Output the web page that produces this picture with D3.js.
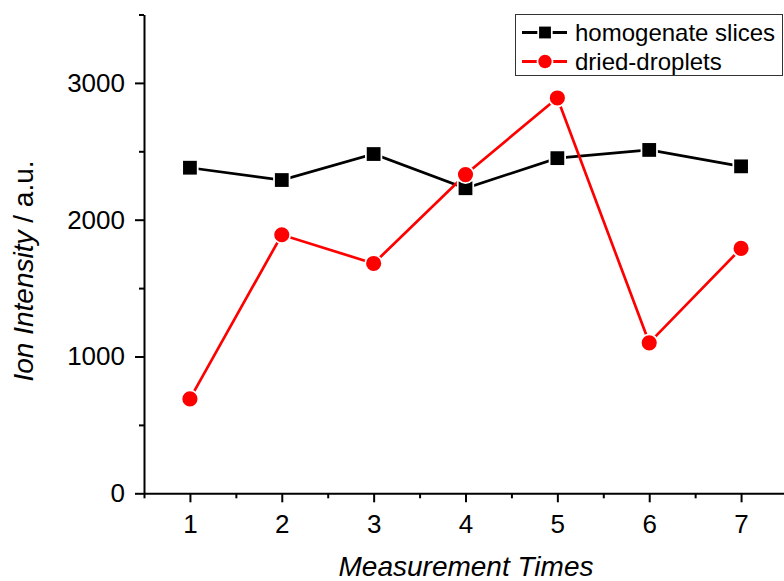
<!DOCTYPE html>
<html>
<head>
  <meta charset="utf-8">
  <title>Ion Intensity</title>
  <style>
    body { margin: 0; background: #fff; }
    svg  { font-family: "Liberation Sans", Arial, sans-serif; }
    .axis path, .axis line { stroke: #000; stroke-width: 2; }
    .axis text { fill: #000; }
  </style>
</head>
<body>
  <script src="https://cdn.jsdelivr.net/npm/d3@7/dist/d3.min.js"></script>

  <div id="scene">
    <svg width="784" height="581"></svg>
  </div>

  <script>
    // values
    var times = [1, 2, 3, 4, 5, 6, 7];
    var homogenate = [2380, 2290, 2480, 2230, 2450, 2510, 2390];
    var droplets = [690, 1890, 1680, 2330, 2890, 1100, 1790];
    var yMajor = [0, 1000, 2000, 3000];
    var yMinor = [500, 1500, 2500, 3500];
    var xMinor = [0.5, 1.5, 2.5, 3.5, 4.5, 5.5, 6.5, 7.5];
    var seriesNames = ["homogenate slices", "dried-droplets"];

    var svg = d3.select("svg");

    var x = d3.scaleLinear().domain([0.5, 7.5]).range([144, 787]);
    var y = d3.scaleLinear().domain([0, 3500]).range([493.3, 14.5]);

    // axes
    svg.append("g").attr("class", "axis")
      .attr("transform", "translate(0,493.3)")
      .call(d3.axisBottom(x).tickValues(xMinor).tickSize(5).tickSizeOuter(0).tickFormat(""));
    var xa = svg.append("g").attr("class", "axis")
      .attr("transform", "translate(0,493.3)")
      .call(d3.axisBottom(x).tickValues(times).tickSize(9).tickSizeOuter(0)
        .tickPadding(12).tickFormat(d3.format("d")));
    xa.select(".domain").remove();
    xa.selectAll("text").style("font-size", "26px");

    svg.append("g").attr("class", "axis")
      .attr("transform", "translate(144,0)")
      .call(d3.axisLeft(y).tickValues(yMinor).tickSize(5).tickSizeOuter(0).tickFormat(""));
    var ya = svg.append("g").attr("class", "axis")
      .attr("transform", "translate(144,0)")
      .call(d3.axisLeft(y).tickValues(yMajor).tickSize(9).tickSizeOuter(0)
        .tickPadding(10).tickFormat(d3.format("d")));
    ya.select(".domain").remove();
    ya.selectAll("text").style("font-size", "26px");

    // axis titles
    svg.append("text")
      .attr("x", 466).attr("y", 576)
      .attr("text-anchor", "middle")
      .style("font-size", "28px").style("font-style", "italic")
      .text("Measurement Times");

    var yt = svg.append("text")
      .attr("transform", "translate(33,271) rotate(-90)")
      .attr("text-anchor", "middle")
      .style("font-size", "28px");
    yt.append("tspan").style("font-style", "italic").text("Ion Intensity");
    yt.append("tspan").text(" / a.u.");

    // series
    var series = [
      {name: seriesNames[0], values: homogenate, color: "#000", shape: d3.symbolSquare},
      {name: seriesNames[1], values: droplets, color: "#ff0000", shape: d3.symbolCircle}
    ];

    var line = d3.line()
      .x(function(d, i) { return x(times[i]); })
      .y(function(d) { return y(d); });

    function marker(g, s, size) {
      // white halo leaves a gap between line and marker
      g.append("path")
        .attr("d", d3.symbol().type(s.shape).size(size)())
        .attr("fill", s.color)
        .attr("stroke", "#fff")
        .attr("stroke-width", 3.5)
        .attr("paint-order", "stroke");
    }

    series.forEach(function(s) {
      svg.append("path")
        .attr("d", line(s.values))
        .attr("fill", "none")
        .attr("stroke", s.color)
        .attr("stroke-width", 2.7);
    });
    series.forEach(function(s) {
      s.values.forEach(function(v, i) {
        var g = svg.append("g")
          .attr("transform", "translate(" + x(times[i]) + "," + y(v) + ")");
        marker(g, s, s.shape === d3.symbolSquare ? 190 : 180);
      });
    });

    // legend
    var lg = svg.append("g");
    lg.append("rect")
      .attr("x", 515.5).attr("y", 14.5)
      .attr("width", 267).attr("height", 61)
      .attr("fill", "#fff").attr("stroke", "#333").attr("stroke-width", 1);

    series.forEach(function(s, i) {
      var cy = 32.5 + i * 29;
      lg.append("line")
        .attr("x1", 522).attr("x2", 567).attr("y1", cy).attr("y2", cy)
        .attr("stroke", s.color).attr("stroke-width", 3);
      var g = lg.append("g").attr("transform", "translate(545," + cy + ")");
      marker(g, s, 140);
      lg.append("text")
        .attr("x", 575).attr("y", cy + 8)
        .style("font-size", "24px")
        .text(s.name);
    });
  </script>
</body>
</html>
